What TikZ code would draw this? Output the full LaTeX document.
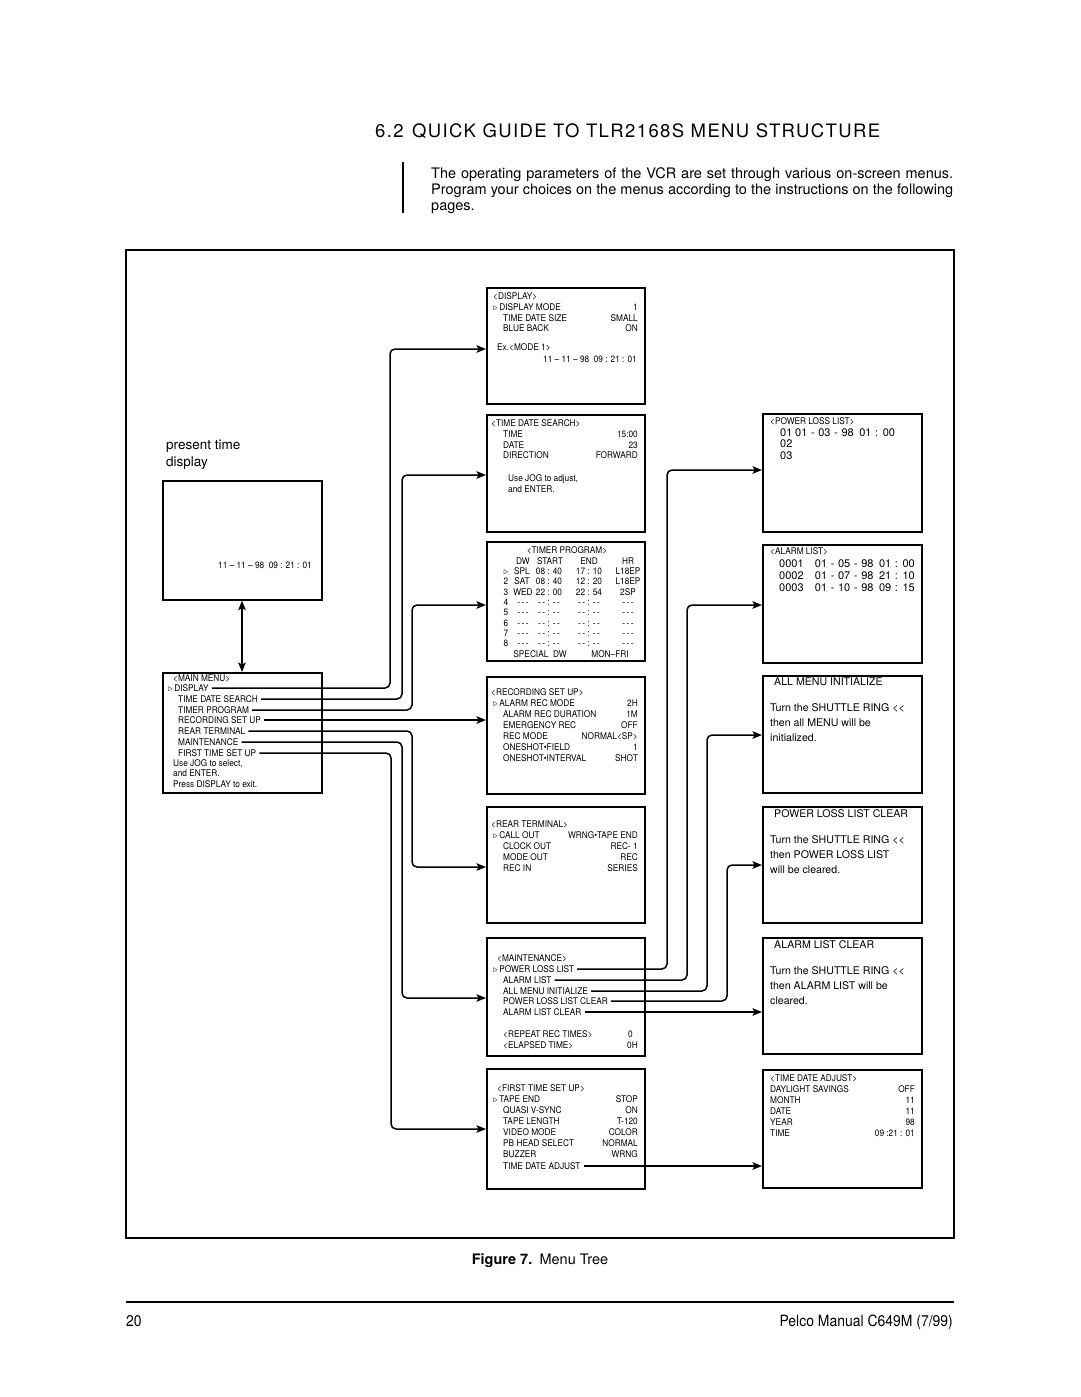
\documentclass[tikz,border=0pt]{standalone}
\usepackage{fontspec}
\setmainfont{TeX Gyre Heros}[Ligatures=TeXOff]
\newfontfamily\narrowfont{TeX Gyre Heros}[FakeStretch=0.9, Ligatures=TeXOff]
\newfontfamily\titlefont{TeX Gyre Heros}[LetterSpace=7.5, Ligatures=TeXOff]
\usetikzlibrary{arrows.meta}

\tikzset{
    >={Stealth[length=9.5pt,width=7.5pt,inset=2pt]},
    screen/.style={draw, line width=1.6pt, anchor=north west, inner sep=0pt, minimum width=159pt},
    mtxt/.style={anchor=west, inner sep=0pt, font=\narrowfont\fontsize{9.2}{11}\selectfont, text height=6.6pt, text depth=0pt},
    mval/.style={mtxt, anchor=east},
    mcol/.style={mtxt, anchor=center},
    btxt/.style={anchor=west, inner sep=0pt, font=\fontsize{10.6}{13}\selectfont, text height=7.6pt, text depth=0pt},
    ltxt/.style={btxt, font=\fontsize{11}{13}\selectfont, text height=7.9pt, execute at begin node={\spaceskip=0.33em\relax}},
    intro/.style={anchor=west, inner sep=0pt, font=\fontsize{14.5}{17}\selectfont, text height=10.4pt, text depth=0pt},
    conn/.style={->, line width=1.5pt, rounded corners=5pt, shorten <=3pt},
}

\begin{document}
\begin{tikzpicture}[x=1pt,y=-1pt]
    % Seite
    \path[use as bounding box, fill=white] (0,0) rectangle (1080,1397);

    % Ueberschrift und Einleitung
    \node[anchor=west, inner sep=0pt, font=\titlefont\fontsize{18.5}{22}\selectfont, text height=13.3pt, text depth=0pt] (title) at (375,131) {6.2\hspace{0.45em}QUICK GUIDE TO TLR2168S MENU STRUCTURE};
    \draw[line width=1.8pt] (403,162) -- (403,213);
    \node[intro] (intro1) at (431,173) {\makebox[522pt][s]{The operating parameters of the VCR are set through various on-screen menus.}};
    \node[intro] (intro2) at (431,189) {\makebox[522pt][s]{Program your choices on the menus according to the instructions on the following}};
    \node[intro] (intro3) at (431,205) {pages.};

    % Rahmen
    \draw[line width=1.7pt] (126,250) rectangle (954,1238);

    % Anzeige und Hauptmenue
    \node[anchor=west, inner sep=0pt, font=\fontsize{13.5}{16}\selectfont, text height=9.7pt, text depth=0pt] (ptl1) at (166,445) {present time};
    \node[anchor=west, inner sep=0pt, font=\fontsize{13.5}{16}\selectfont, text height=9.7pt, text depth=0pt] (ptl2) at (166,462) {display};
    \node[screen, minimum height=119pt] (present) at (162,480) {};
    \node[mval] (pt1) at (312,565) {11 \textendash{} 11 \textendash{} 98\enspace 09 : 21 : 01};

    \node[screen, minimum height=120pt] (mainmenu) at (162,672) {};
    \node[mtxt] (mm0) at (173,678) {<MAIN MENU>};
    \node[mtxt] (mm1) at (168,688) {$\triangleright$\,DISPLAY};
    \node[mtxt] (mm2) at (178,699) {TIME DATE SEARCH};
    \node[mtxt] (mm3) at (178,710) {TIMER PROGRAM};
    \node[mtxt] (mm4) at (178,720) {RECORDING SET UP};
    \node[mtxt] (mm5) at (178,731) {REAR TERMINAL};
    \node[mtxt] (mm6) at (178,742) {MAINTENANCE};
    \node[mtxt] (mm7) at (178,753) {FIRST TIME SET UP};
    \node[mtxt] (mm8) at (173,763) {Use JOG to select,};
    \node[mtxt] (mm9) at (173,773) {and ENTER.};
    \node[mtxt] (mm10) at (173,784) {Press DISPLAY to exit.};

    \draw[<->, line width=1.5pt] (present.south -| 242,0) -- (mainmenu.north -| 242,0);

    % Mittlere Spalte
    \node[screen, minimum height=116pt, minimum width=158pt] (disp) at (486,287) {};
    \node[mtxt] (di0) at (493,296) {<DISPLAY>};
    \node[mtxt] (di1) at (493,307) {$\triangleright$\,DISPLAY MODE};
    \node[mval] (di1v) at (638,307) {1};
    \node[mtxt] (di2) at (503,318) {TIME DATE SIZE};
    \node[mval] (di2v) at (638,318) {SMALL};
    \node[mtxt] (di3) at (503,328) {BLUE BACK};
    \node[mval] (di3v) at (638,328) {ON};
    \node[mtxt] (di4) at (497,347) {Ex.<MODE 1>};
    \node[mval] (di5) at (637,359) {11 \textendash{} 11 \textendash{} 98\enspace 09 : 21 : 01};

    \node[screen, minimum height=117pt, minimum width=158pt] (tds) at (486,414) {};
    \node[mtxt] (ts0) at (491,423) {<TIME DATE SEARCH>};
    \node[mtxt] (ts1) at (503,434) {TIME};
    \node[mval] (ts1v) at (638,434) {15:00};
    \node[mtxt] (ts2) at (503,445) {DATE};
    \node[mval] (ts2v) at (638,445) {23};
    \node[mtxt] (ts3) at (503,455) {DIRECTION};
    \node[mval] (ts3v) at (638,455) {FORWARD};
    \node[mtxt] (ts4) at (508,478) {Use JOG to adjust,};
    \node[mtxt] (ts5) at (508,489) {and ENTER.};

    \node[screen, minimum height=119pt, minimum width=158pt] (timer) at (486,541) {};
    \node[mcol] (tp0) at (567,550) {<TIMER PROGRAM>};
    \node[mcol] (tph1) at (523,561) {DW}; \node[mcol] (tph2) at (550,561) {START}; \node[mcol] (tph3) at (589,561) {END}; \node[mcol] (tph4) at (628,561) {HR};
    \node[mcol] (tpa1) at (506,571) {$\triangleright$}; \node[mcol] (tpb1) at (522,571) {SPL}; \node[mcol] (tpc1) at (549,571) {08 : 40}; \node[mcol] (tpd1) at (589,571) {17 : 10}; \node[mcol] (tpe1) at (628,571) {L18EP};
    \node[mcol] (tpa2) at (506,581) {2}; \node[mcol] (tpb2) at (522,581) {SAT}; \node[mcol] (tpc2) at (549,581) {08 : 40}; \node[mcol] (tpd2) at (589,581) {12 : 20}; \node[mcol] (tpe2) at (628,581) {L18EP};
    \node[mcol] (tpa3) at (506,592) {3}; \node[mcol] (tpb3) at (523,592) {WED}; \node[mcol] (tpc3) at (549,592) {22 : 00}; \node[mcol] (tpd3) at (589,592) {22 : 54}; \node[mcol] (tpe3) at (628,592) {2SP};
    \node[mcol] (tpa4) at (506,602) {4}; \node[mcol] (tpb4) at (523,602) {-\,-\,-}; \node[mcol] (tpc4) at (549,602) {-\,- : -\,-}; \node[mcol] (tpd4) at (589,602) {-\,- : -\,-}; \node[mcol] (tpe4) at (628,602) {-\,-\,-};
    \node[mcol] (tpa5) at (506,612) {5}; \node[mcol] (tpb5) at (523,612) {-\,-\,-}; \node[mcol] (tpc5) at (549,612) {-\,- : -\,-}; \node[mcol] (tpd5) at (589,612) {-\,- : -\,-}; \node[mcol] (tpe5) at (628,612) {-\,-\,-};
    \node[mcol] (tpa6) at (506,623) {6}; \node[mcol] (tpb6) at (523,623) {-\,-\,-}; \node[mcol] (tpc6) at (549,623) {-\,- : -\,-}; \node[mcol] (tpd6) at (589,623) {-\,- : -\,-}; \node[mcol] (tpe6) at (628,623) {-\,-\,-};
    \node[mcol] (tpa7) at (506,633) {7}; \node[mcol] (tpb7) at (523,633) {-\,-\,-}; \node[mcol] (tpc7) at (549,633) {-\,- : -\,-}; \node[mcol] (tpd7) at (589,633) {-\,- : -\,-}; \node[mcol] (tpe7) at (628,633) {-\,-\,-};
    \node[mcol] (tpa8) at (506,643) {8}; \node[mcol] (tpb8) at (523,643) {-\,-\,-}; \node[mcol] (tpc8) at (549,643) {-\,- : -\,-}; \node[mcol] (tpd8) at (589,643) {-\,- : -\,-}; \node[mcol] (tpe8) at (628,643) {-\,-\,-};
    \node[mcol] (tpf1) at (540,654) {SPECIAL\enspace DW};
    \node[mcol] (tpf2) at (610,654) {MON\textendash FRI};

    \node[screen, minimum height=117pt, minimum width=158pt] (recset) at (486,676) {};
    \node[mtxt] (rs0) at (491,692) {<RECORDING SET UP>};
    \node[mtxt] (rs1) at (493,703) {$\triangleright$\,ALARM REC MODE};
    \node[mval] (rs1v) at (638,703) {2H};
    \node[mtxt] (rs2) at (503,714) {ALARM REC DURATION};
    \node[mval] (rs2v) at (638,714) {1M};
    \node[mtxt] (rs3) at (503,725) {EMERGENCY REC};
    \node[mval] (rs3v) at (638,725) {OFF};
    \node[mtxt] (rs4) at (503,736) {REC MODE};
    \node[mval] (rs4v) at (638,736) {NORMAL<SP>};
    \node[mtxt] (rs5) at (503,747) {ONESHOT\textbullet FIELD};
    \node[mval] (rs5v) at (638,747) {1};
    \node[mtxt] (rs6) at (503,758) {ONESHOT\textbullet INTERVAL};
    \node[mval] (rs6v) at (638,758) {SHOT};

    \node[screen, minimum height=116pt, minimum width=158pt] (rear) at (486,806) {};
    \node[mtxt] (rt0) at (491,824) {<REAR TERMINAL>};
    \node[mtxt] (rt1) at (493,835) {$\triangleright$\,CALL OUT};
    \node[mval] (rt1v) at (638,835) {WRNG\textbullet TAPE END};
    \node[mtxt] (rt2) at (503,846) {CLOCK OUT};
    \node[mval] (rt2v) at (638,846) {REC- 1};
    \node[mtxt] (rt3) at (503,857) {MODE OUT};
    \node[mval] (rt3v) at (638,857) {REC};
    \node[mtxt] (rt4) at (503,868) {REC IN};
    \node[mval] (rt4v) at (638,868) {SERIES};

    \node[screen, minimum height=118pt, minimum width=158pt] (maint) at (486,937) {};
    \node[mtxt] (mt0) at (497,958) {<MAINTENANCE>};
    \node[mtxt] (mt1) at (493,969) {$\triangleright$\,POWER LOSS LIST};
    \node[mtxt] (mt2) at (503,980) {ALARM LIST};
    \node[mtxt] (mt3) at (503,991) {ALL MENU INITIALIZE};
    \node[mtxt] (mt4) at (503,1001) {POWER LOSS LIST CLEAR};
    \node[mtxt] (mt5) at (503,1012) {ALARM LIST CLEAR};
    \node[mtxt] (mt6) at (503,1034) {<REPEAT REC TIMES>};
    \node[mtxt] (mt6v) at (628,1034) {0};
    \node[mtxt] (mt7) at (503,1045) {<ELAPSED TIME>};
    \node[mtxt] (mt7v) at (627,1045) {0H};

    \node[screen, minimum height=120pt, minimum width=158pt] (first) at (486,1068) {};
    \node[mtxt] (ft0) at (497,1088) {<FIRST TIME SET UP>};
    \node[mtxt] (ft1) at (493,1099) {$\triangleright$\,TAPE END};
    \node[mval] (ft1v) at (638,1099) {STOP};
    \node[mtxt] (ft2) at (503,1110) {QUASI V-SYNC};
    \node[mval] (ft2v) at (638,1110) {ON};
    \node[mtxt] (ft3) at (503,1121) {TAPE LENGTH};
    \node[mval] (ft3v) at (638,1121) {T-120};
    \node[mtxt] (ft4) at (503,1132) {VIDEO MODE};
    \node[mval] (ft4v) at (638,1132) {COLOR};
    \node[mtxt] (ft5) at (503,1143) {PB HEAD SELECT};
    \node[mval] (ft5v) at (638,1143) {NORMAL};
    \node[mtxt] (ft6) at (503,1154) {BUZZER};
    \node[mval] (ft6v) at (638,1154) {WRNG};
    \node[mtxt] (ft7) at (503,1166) {TIME DATE ADJUST};

    % Rechte Spalte
    \node[screen, minimum height=118pt] (plist) at (762,413) {};
    \node[mtxt] (pl0) at (770,421) {<POWER LOSS LIST>};
    \node[ltxt] (pl1) at (780,433) {01};
    \node[ltxt] (pl1v) at (795,433) {01 - 03 - 98\enspace 01 : 00};
    \node[ltxt] (pl2) at (780,444) {02};
    \node[ltxt] (pl3) at (780,456) {03};

    \node[screen, minimum height=118pt] (alist) at (762,544) {};
    \node[mtxt] (al0) at (770,551) {<ALARM LIST>};
    \node[ltxt] (al1) at (779,564) {0001};
    \node[ltxt, anchor=east] (al1v) at (915,564) {01 - 05 - 98\enspace 01 : 00};
    \node[ltxt] (al2) at (779,576) {0002};
    \node[ltxt, anchor=east] (al2v) at (915,576) {01 - 07 - 98\enspace 21 : 10};
    \node[ltxt] (al3) at (779,588) {0003};
    \node[ltxt, anchor=east] (al3v) at (915,588) {01 - 10 - 98\enspace 09 : 15};

    \node[screen, minimum height=117pt] (init) at (762,675) {};
    \node[btxt] (in0) at (774,682) {ALL MENU INITIALIZE};
    \node[btxt] (in1) at (770,708) {Turn the SHUTTLE RING <<};
    \node[btxt] (in2) at (770,723) {then all MENU will be};
    \node[btxt] (in3) at (770,738) {initialized.};

    \node[screen, minimum height=116pt] (plclr) at (762,806) {};
    \node[btxt] (pc0) at (774,814) {POWER LOSS LIST CLEAR};
    \node[btxt] (pc1) at (770,840) {Turn the SHUTTLE RING <<};
    \node[btxt] (pc2) at (770,855) {then POWER LOSS LIST};
    \node[btxt] (pc3) at (770,870) {will be cleared.};

    \node[screen, minimum height=116pt] (alclr) at (762,937) {};
    \node[btxt] (ac0) at (774,945) {ALARM LIST CLEAR};
    \node[btxt] (ac1) at (770,971) {Turn the SHUTTLE RING <<};
    \node[btxt] (ac2) at (770,986) {then ALARM LIST will be};
    \node[btxt] (ac3) at (770,1001) {cleared.};

    \node[screen, minimum height=118pt] (tdadj) at (762,1069) {};
    \node[mtxt] (ta0) at (770,1078) {<TIME DATE ADJUST>};
    \node[mtxt] (ta1) at (770,1089) {DAYLIGHT SAVINGS};
    \node[mval] (ta1v) at (915,1089) {OFF};
    \node[mtxt] (ta2) at (770,1100) {MONTH};
    \node[mval] (ta2v) at (915,1100) {11};
    \node[mtxt] (ta3) at (770,1111) {DATE};
    \node[mval] (ta3v) at (915,1111) {11};
    \node[mtxt] (ta4) at (770,1122) {YEAR};
    \node[mval] (ta4v) at (915,1122) {98};
    \node[mtxt] (ta5) at (770,1133) {TIME};
    \node[mval] (ta5v) at (915,1133) {09 :21 : 01};

    % Verbindungen vom Hauptmenue
    \draw[conn] (mm1.east) -| (390,349) -- (disp.west |- 0,349);
    \draw[conn] (mm2.east) -| (402,475) -- (tds.west |- 0,475);
    \draw[conn] (mm3.east) -| (412,605) -- (timer.west |- 0,605);
    \draw[conn] (mm4.east) -- (recset.west |- mm4.east);
    \draw[conn] (mm5.east) -| (412,867) -- (rear.west |- 0,867);
    \draw[conn] (mm6.east) -| (402,998) -- (maint.west |- 0,998);
    \draw[conn] (mm7.east) -| (391,1129) -- (first.west |- 0,1129);

    % Verbindungen von Maintenance und First Time Set Up
    \draw[conn] (mt1.east) -| (667,470) -- (plist.west |- 0,470);
    \draw[conn] (mt2.east) -| (687,605) -- (alist.west |- 0,605);
    \draw[conn] (mt3.east) -| (707,735) -- (init.west |- 0,735);
    \draw[conn] (mt4.east) -| (727,865) -- (plclr.west |- 0,865);
    \draw[conn] (mt5.east) -- (alclr.west |- mt5.east);
    \draw[conn] (ft7.east) -- (tdadj.west |- ft7.east);

    % Bildunterschrift und Fusszeile
    \node[inner sep=0pt, font=\fontsize{14.5}{17}\selectfont, text height=10.4pt, text depth=0pt] (caption) at (540,1259) {\textbf{Figure 7.}\enspace Menu Tree};
    \draw[line width=2pt] (126,1302) -- (954,1302);
    \node[anchor=west, inner sep=0pt, font=\narrowfont\fontsize{15.5}{18}\selectfont, text height=11.1pt, text depth=0pt] (pagenr) at (126,1321) {20};
    \node[anchor=east, inner sep=0pt, font=\narrowfont\fontsize{15.5}{18}\selectfont, text height=11.1pt, text depth=0pt] (manual) at (953,1321) {Pelco Manual C649M (7/99)};
\end{tikzpicture}
\end{document}
